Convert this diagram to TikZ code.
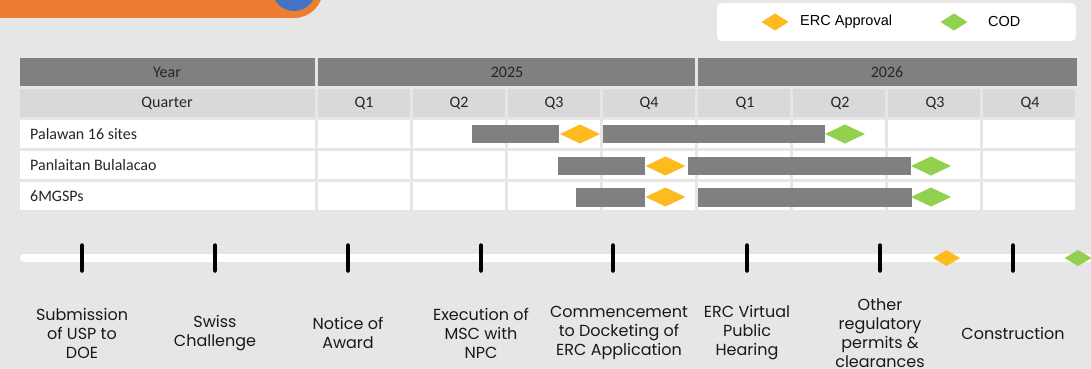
\documentclass[tikz,border=0pt]{standalone}
\usepackage{fontspec}
\setmainfont{Carlito}
\newfontfamily\legendfont{Liberation Sans}
\newfontfamily\stepfont{Poppins}

\definecolor{pagegray}{HTML}{E6E6E6}
\definecolor{headdark}{HTML}{808080}
\definecolor{headlight}{HTML}{D9D9D9}
\definecolor{barfill}{HTML}{808080}
\definecolor{ercyellow}{HTML}{FDBB1F}
\definecolor{codgreen}{HTML}{92D050}
\definecolor{bandorange}{HTML}{ED7D31}
\definecolor{dotblue}{HTML}{4472C4}

% diamond marker: colour, x, y, half width, half height
\newcommand{\milestone}[5]{\fill[#1] (#2,#3) +(-#4,0) -- +(0,-#5) -- +(#4,0) -- +(0,#5) -- cycle;}

\tikzset{
  tabtext/.style={font=\fontsize{16}{18}\selectfont, text=black!85, inner sep=0pt},
  legtext/.style={font=\legendfont\fontsize{14.5}{16}\selectfont, anchor=west, inner sep=0pt},
  steplabel/.style={font=\stepfont\fontsize{16}{19}\selectfont, align=center, text=black!90, inner sep=0pt},
  timeline/.style={white, line width=8pt, line cap=round},
  tick/.style={black, line width=4.5pt, line cap=round},
}

\begin{document}
\begin{tikzpicture}[x=1pt,y=-1pt]
\fill[pagegray] (0,0) rectangle (1091,369);
\useasboundingbox (0,0) rectangle (1091,369);
\clip (0,0) rectangle (1091,369);

% top band
\fill[bandorange] (0,-5) rectangle (294,18);
\fill[bandorange] (294,-11) circle (29);
\fill[dotblue] (294,-11) circle (22);

% legend
\fill[white, rounded corners=5pt] (717,3) rectangle (1076,41);
\milestone{ercyellow}{775}{22}{13.5}{8.5}
\node[legtext] (ercleg) at (800,22) {ERC Approval};
\milestone{codgreen}{954}{22}{13.5}{8.5}
\node[legtext] (codleg) at (988,22) {COD};

% table header
\fill[headdark] (20,58) rectangle (314.5,86);
\fill[headdark] (317.5,58) rectangle (694.9,86);
\fill[headdark] (697.9,58) rectangle (1076.8,86);
\fill[headlight] (20,89) rectangle (314.5,117);
\foreach \i in {0,...,7}
  \fill[headlight] (317.5+95.1*\i,89) rectangle (314.5+95.1*\i+95.1,117);
% table body
\foreach \r in {0,1,2} {
  \fill[white] (20,120+31.1*\r) rectangle (314.5,148+31.1*\r);
  \foreach \i in {0,...,7}
    \fill[white] (317.5+95.1*\i,120+31.1*\r) rectangle (314.5+95.1*\i+95.1,148+31.1*\r);
}

\node[tabtext] (year) at (167,72) {Year};
\node[tabtext] (y25) at (507,72) {2025};
\node[tabtext] (y26) at (887,72) {2026};
\node[tabtext] (quarter) at (167,103) {Quarter};
\node[tabtext] (q1a) at (364,103) {Q1};
\node[tabtext] (q2a) at (459,103) {Q2};
\node[tabtext] (q3a) at (554,103) {Q3};
\node[tabtext] (q4a) at (649,103) {Q4};
\node[tabtext] (q1b) at (745,103) {Q1};
\node[tabtext] (q2b) at (840,103) {Q2};
\node[tabtext] (q3b) at (935,103) {Q3};
\node[tabtext] (q4b) at (1030,103) {Q4};
\node[tabtext, anchor=west] (palawan) at (30,134) {Palawan 16 sites};
\node[tabtext, anchor=west] (panlaitan) at (30,165.5) {Panlaitan Bulalacao};
\node[tabtext, anchor=west] (mgsp) at (30,196.5) {6MGSPs};

% bars
\fill[barfill] (472,125) rectangle (559,143);
\fill[barfill] (603,125) rectangle (825,143);
\milestone{ercyellow}{580}{134}{20}{9.5}
\milestone{codgreen}{845}{134}{20}{9.5}
\fill[barfill] (558,156.5) rectangle (645,175);
\fill[barfill] (688,156.5) rectangle (911,175);
\milestone{ercyellow}{665.5}{166}{20}{9.5}
\milestone{codgreen}{931}{166}{20}{9.5}
\fill[barfill] (576,188) rectangle (645,206.5);
\fill[barfill] (698,188) rectangle (912,206.5);
\milestone{ercyellow}{665.5}{197}{20}{9.5}
\milestone{codgreen}{931}{197}{20}{9.5}

% timeline
\coordinate (lineL) at (24,258);
\coordinate (lineR) at (1100,258);
\draw[timeline] (lineL) -- (lineR);
\foreach \x [count=\k] in {82,215,348,481,613,747,880,1013} {
  \coordinate (t\k) at (\x,258);
  \draw[tick] ([yshift=12.5pt]t\k) -- ([yshift=-12.5pt]t\k);
}
\milestone{ercyellow}{946.5}{258}{13.5}{8}
\milestone{codgreen}{1078}{258}{13.5}{8}

\node[steplabel] (submission) at (82,333) {Submission\\of USP to\\DOE};
\node[steplabel] (swiss) at (215,333) {Swiss\\Challenge};
\node[steplabel] (notice) at (348,333) {Notice of\\Award};
\node[steplabel] (execution) at (481,333) {Execution of\\MSC with\\NPC};
\node[steplabel] (docketing) at (619,333) {Commencement\\to Docketing of\\ERC Application};
\node[steplabel] (hearing) at (747,333) {ERC Virtual\\Public\\Hearing};
\node[steplabel] (permits) at (880,333) {Other\\regulatory\\permits \&\\clearances};
\node[steplabel] (construction) at (1013,333) {Construction};
\end{tikzpicture}
\end{document}
